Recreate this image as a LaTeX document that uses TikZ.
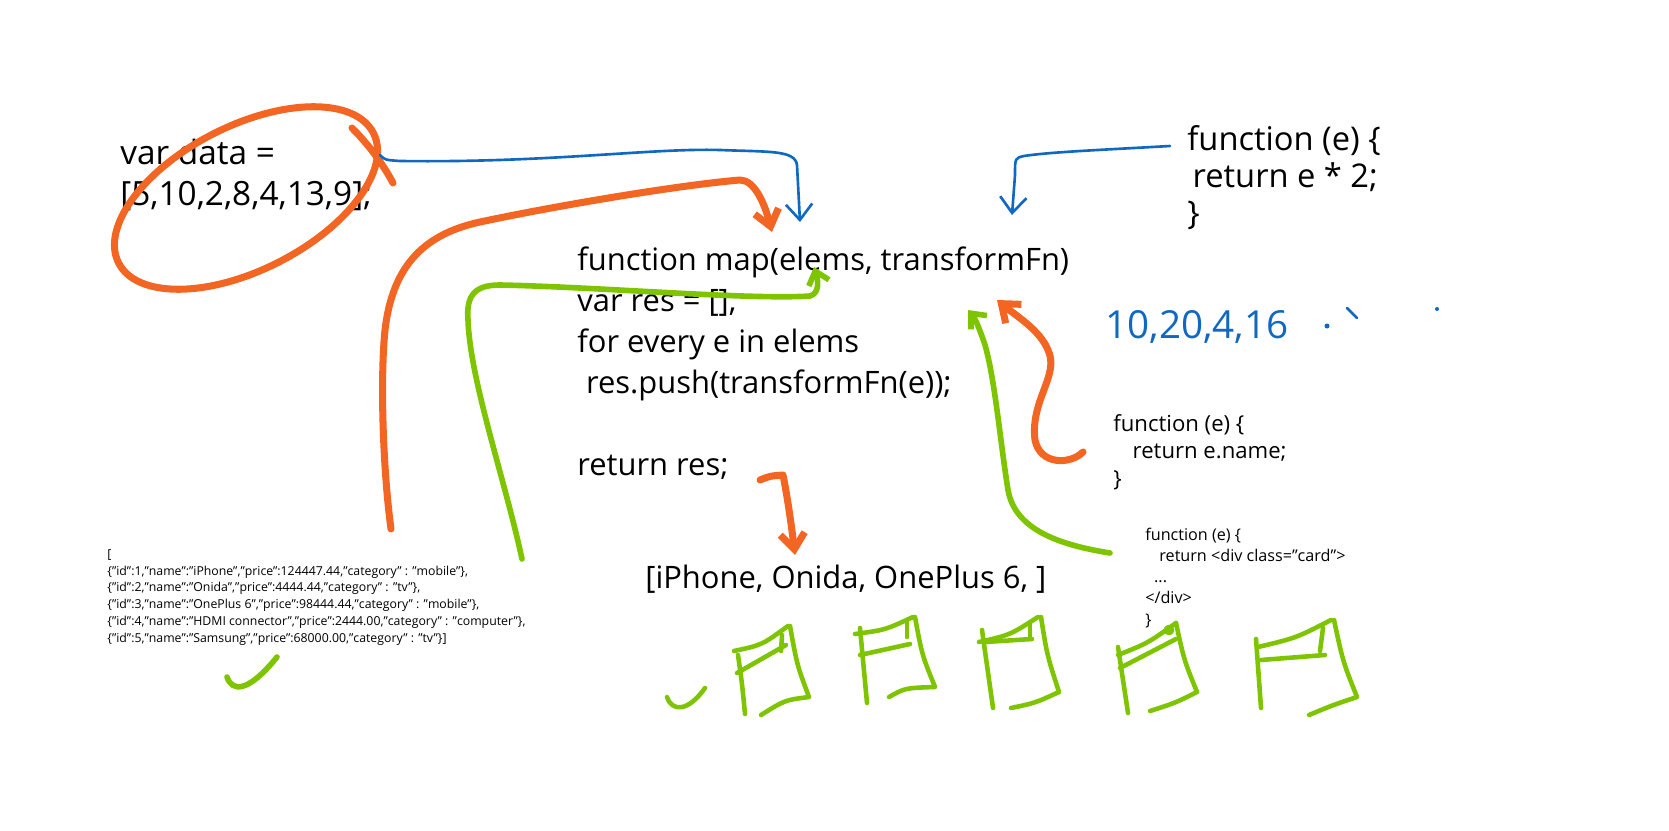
\documentclass[tikz,border=0pt]{standalone}
\usepackage{fontspec}
\setmainfont{Open Sans}
\usetikzlibrary{
    arrows.meta
}
\definecolor{penorange}{HTML}{F26522}
\definecolor{penblue}{HTML}{1068C0}
\definecolor{pengreen}{HTML}{7EC400}
\tikzset{
    bigcode/.style={
        font=\fontsize{17.6}{23.3}\selectfont,
        align=left, inner sep=0pt, anchor=base west
    },
    smallcode/.style={
        font=\fontsize{12.6}{15.4}\selectfont,
        align=left, inner sep=0pt, anchor=base west
    },
    tinycode/.style={
        font=\fontsize{9.2}{12}\selectfont,
        align=left, inner sep=0pt, anchor=base west
    },
    jsoncode/.style={
        font=\fontsize{7}{9.5}\selectfont,
        align=left, inner sep=0pt, anchor=base west
    },
    orangepen/.style={draw=penorange, line width=4pt},
    bluepen/.style={draw=penblue, line width=1.5pt},
    greenpen/.style={draw=pengreen, line width=3.2pt},
    cardpen/.style={draw=pengreen, line width=2.6pt}
}

\begin{document}
\begin{tikzpicture}[
    x=0.02cm, y=-0.02cm,
    line cap=round, line join=round
]
    \useasboundingbox (0,0) rectangle (1669,831);

    % Textos (anclados en la linea base de la ultima fila)
    \node[bigcode, font=\fontsize{19}{23.8}\selectfont] (data) at (120,206)
        {var data =\\{[}5,10,2,8,4,13,9];};

    \node[bigcode] (mapfn) at (577,475)
        {function map(elems, transformFn)\\
         var res = [];\\
         for every e in elems\\
         \hspace{5pt}res.push(transformFn(e));\\[23.3pt]
         return res;};

    \node[bigcode, font=\fontsize{18.6}{21.3}\selectfont] (doublefn) at (1187,225)
        {function (e) \{\\
         \hspace{3pt}return e * 2;\\
         \}};

    \node[smallcode] (namefn) at (1113,486)
        {function (e) \{\\
         \hspace{11pt}return e.name;\\
         \}};

    \node[tinycode] (cardfn) at (1145,625)
        {function (e) \{\\
         \hspace{8pt}return <div class="card">\\
         \hspace{5pt}...\\
         </div>\\
         \}};

    \node[jsoncode] (products) at (107,642)
        {[\\
         \{"id":1,"name":"iPhone","price":124447.44,"category" : "mobile"\},\\
         \{"id":2,"name":"Onida","price":4444.44,"category" : "tv"\},\\
         \{"id":3,"name":"OnePlus 6","price":98444.44,"category" : "mobile"\},\\
         \{"id":4,"name":"HDMI connector","price":2444.00,"category" : "computer"\},\\
         \{"id":5,"name":"Samsung","price":68000.00,"category" : "tv"\}]};

    \node[bigcode] (names) at (645,588) {[iPhone, Onida, OnePlus 6, ]};

    \node[bigcode, font=\fontsize{22}{26}\selectfont, text=penblue] (doubled) at (1105,338)
        {10,20,4,16};

    % Extremos de las flechas
    \coordinate (ellc) at (246,198);
    \coordinate (b1s) at (380,155);
    \coordinate (b1e) at (800,222);
    \coordinate (b2s) at (1170,146);
    \coordinate (b2e) at (1012,215);
    \coordinate (o1s) at (391,529);
    \coordinate (o1e) at (772,232);
    \coordinate (o2s) at (1083,452);
    \coordinate (o2e) at (997,300);
    \coordinate (o3s) at (760,480);
    \coordinate (o3e) at (795,555);
    \coordinate (g1s) at (522,559);
    \coordinate (g1e) at (814,267);
    \coordinate (g2s) at (1110,553);
    \coordinate (g2e) at (968,310);

    % Marca sobre los datos
    \draw[orangepen, rotate around={27:(ellc)}] (ellc) ellipse [x radius=143, y radius=72];
    \draw[orangepen] (352,128) .. controls (372,148) and (385,168) .. (393,183);

    % Flechas azules
    \draw[bluepen, -{Straight Barb[length=9pt, width=15pt]}]
        (b1s) .. controls (385,160) .. (400,161)
              .. controls (550,163) and (650,148) .. (720,150)
              .. controls (770,152) and (795,150) .. (797,165) -- (b1e);
    \draw[bluepen, -{Straight Barb[length=9pt, width=15pt]}]
        (b2s) .. controls (1100,150) and (1050,152) .. (1024,156)
              .. controls (1015,158) .. (1015,175) -- (b2e);

    % Flechas naranjas
    \draw[orangepen, -{Straight Barb[length=9pt, width=14pt]}]
        (o1s) .. controls (383,470) and (380,380) .. (385,330)
              .. controls (392,270) and (420,235) .. (480,222)
              .. controls (560,205) and (680,185) .. (740,180)
              .. controls (755,180) and (765,205) .. (o1e);
    \draw[orangepen, -{Straight Barb[length=9pt, width=14pt]}]
        (o2s) .. controls (1070,465) and (1040,465) .. (1035,440)
              .. controls (1030,400) and (1060,375) .. (1048,350)
              .. controls (1040,330) and (1015,315) .. (o2e);
    \draw[orangepen, -{Straight Barb[length=9pt, width=14pt]}]
        (o3s) .. controls (770,476) .. (783,475)
              .. controls (788,500) and (792,530) .. (o3e);

    % Flechas verdes
    \draw[greenpen, -{Straight Barb[length=7pt, width=12pt]}]
        (g1s) .. controls (505,480) and (470,380) .. (468,320)
              .. controls (466,295) and (475,285) .. (500,285)
              .. controls (600,287) and (750,300) .. (810,296)
              .. controls (820,293) and (818,280) .. (g1e);
    \draw[greenpen, -{Straight Barb[length=7pt, width=12pt]}]
        (g2s) .. controls (1060,545) and (1015,530) .. (1008,490)
              .. controls (1000,440) and (995,380) .. (985,345)
              .. controls (980,330) and (975,318) .. (g2e);

    % Puntos azules
    \fill[penblue] (1327,326) circle [radius=2.5];
    \draw[bluepen] (1347,308) -- (1357,318);
    \fill[penblue] (1437,309) circle [radius=2];

    % Visto bajo los datos
    \draw[greenpen] (227,677) .. controls (232,692) and (248,693) .. (277,657);

    % Tarjetas
    \draw[cardpen] (667,697) .. controls (672,712) and (688,712) .. (705,688);

    \draw[cardpen] (734,651) .. controls (762,645) .. (788,626);
    \draw[cardpen] (738,655) .. controls (742,683) .. (745,714);
    \draw[cardpen] (790,626) .. controls (797,665) .. (809,697)
                   .. controls (785,700) .. (761,715);
    \draw[cardpen] (737,673) -- (786,645);
    \draw[cardpen] (782,635) -- (781,651);

    \draw[cardpen] (855,634) .. controls (885,630) .. (913,617);
    \draw[cardpen] (860,628) -- (867,703);
    \draw[cardpen] (915,617) .. controls (922,655) .. (935,687)
                   .. controls (905,688) .. (889,697);
    \draw[cardpen] (860,655) -- (910,644);
    \draw[cardpen] (907,621) -- (907,637);

    \draw[cardpen] (979,642) .. controls (1010,635) .. (1038,617);
    \draw[cardpen] (982,630) -- (993,708);
    \draw[cardpen] (1041,617) .. controls (1047,655) .. (1059,692)
                   .. controls (1035,703) .. (1011,708);
    \draw[cardpen] (985,642) -- (1032,639);
    \draw[cardpen] (1030,623) -- (1030,639);

    \draw[cardpen] (1118,655) .. controls (1148,643) .. (1176,623);
    \draw[cardpen] (1118,647) -- (1128,713);
    \draw[cardpen] (1176,623) .. controls (1184,660) .. (1197,692)
                   .. controls (1175,703) .. (1150,711);
    \draw[cardpen] (1120,668) -- (1176,639);
    \draw[cardpen] (1169,630) circle [radius=3];

    \draw[cardpen] (1258,647) .. controls (1296,638) .. (1331,620);
    \draw[cardpen] (1256,639) -- (1261,708);
    \draw[cardpen] (1334,620) .. controls (1343,662) .. (1357,697)
                   .. controls (1333,705) .. (1309,715);
    \draw[cardpen] (1261,660) -- (1325,655);
    \draw[cardpen] (1323,628) -- (1320,651);

\end{tikzpicture}
\end{document}
